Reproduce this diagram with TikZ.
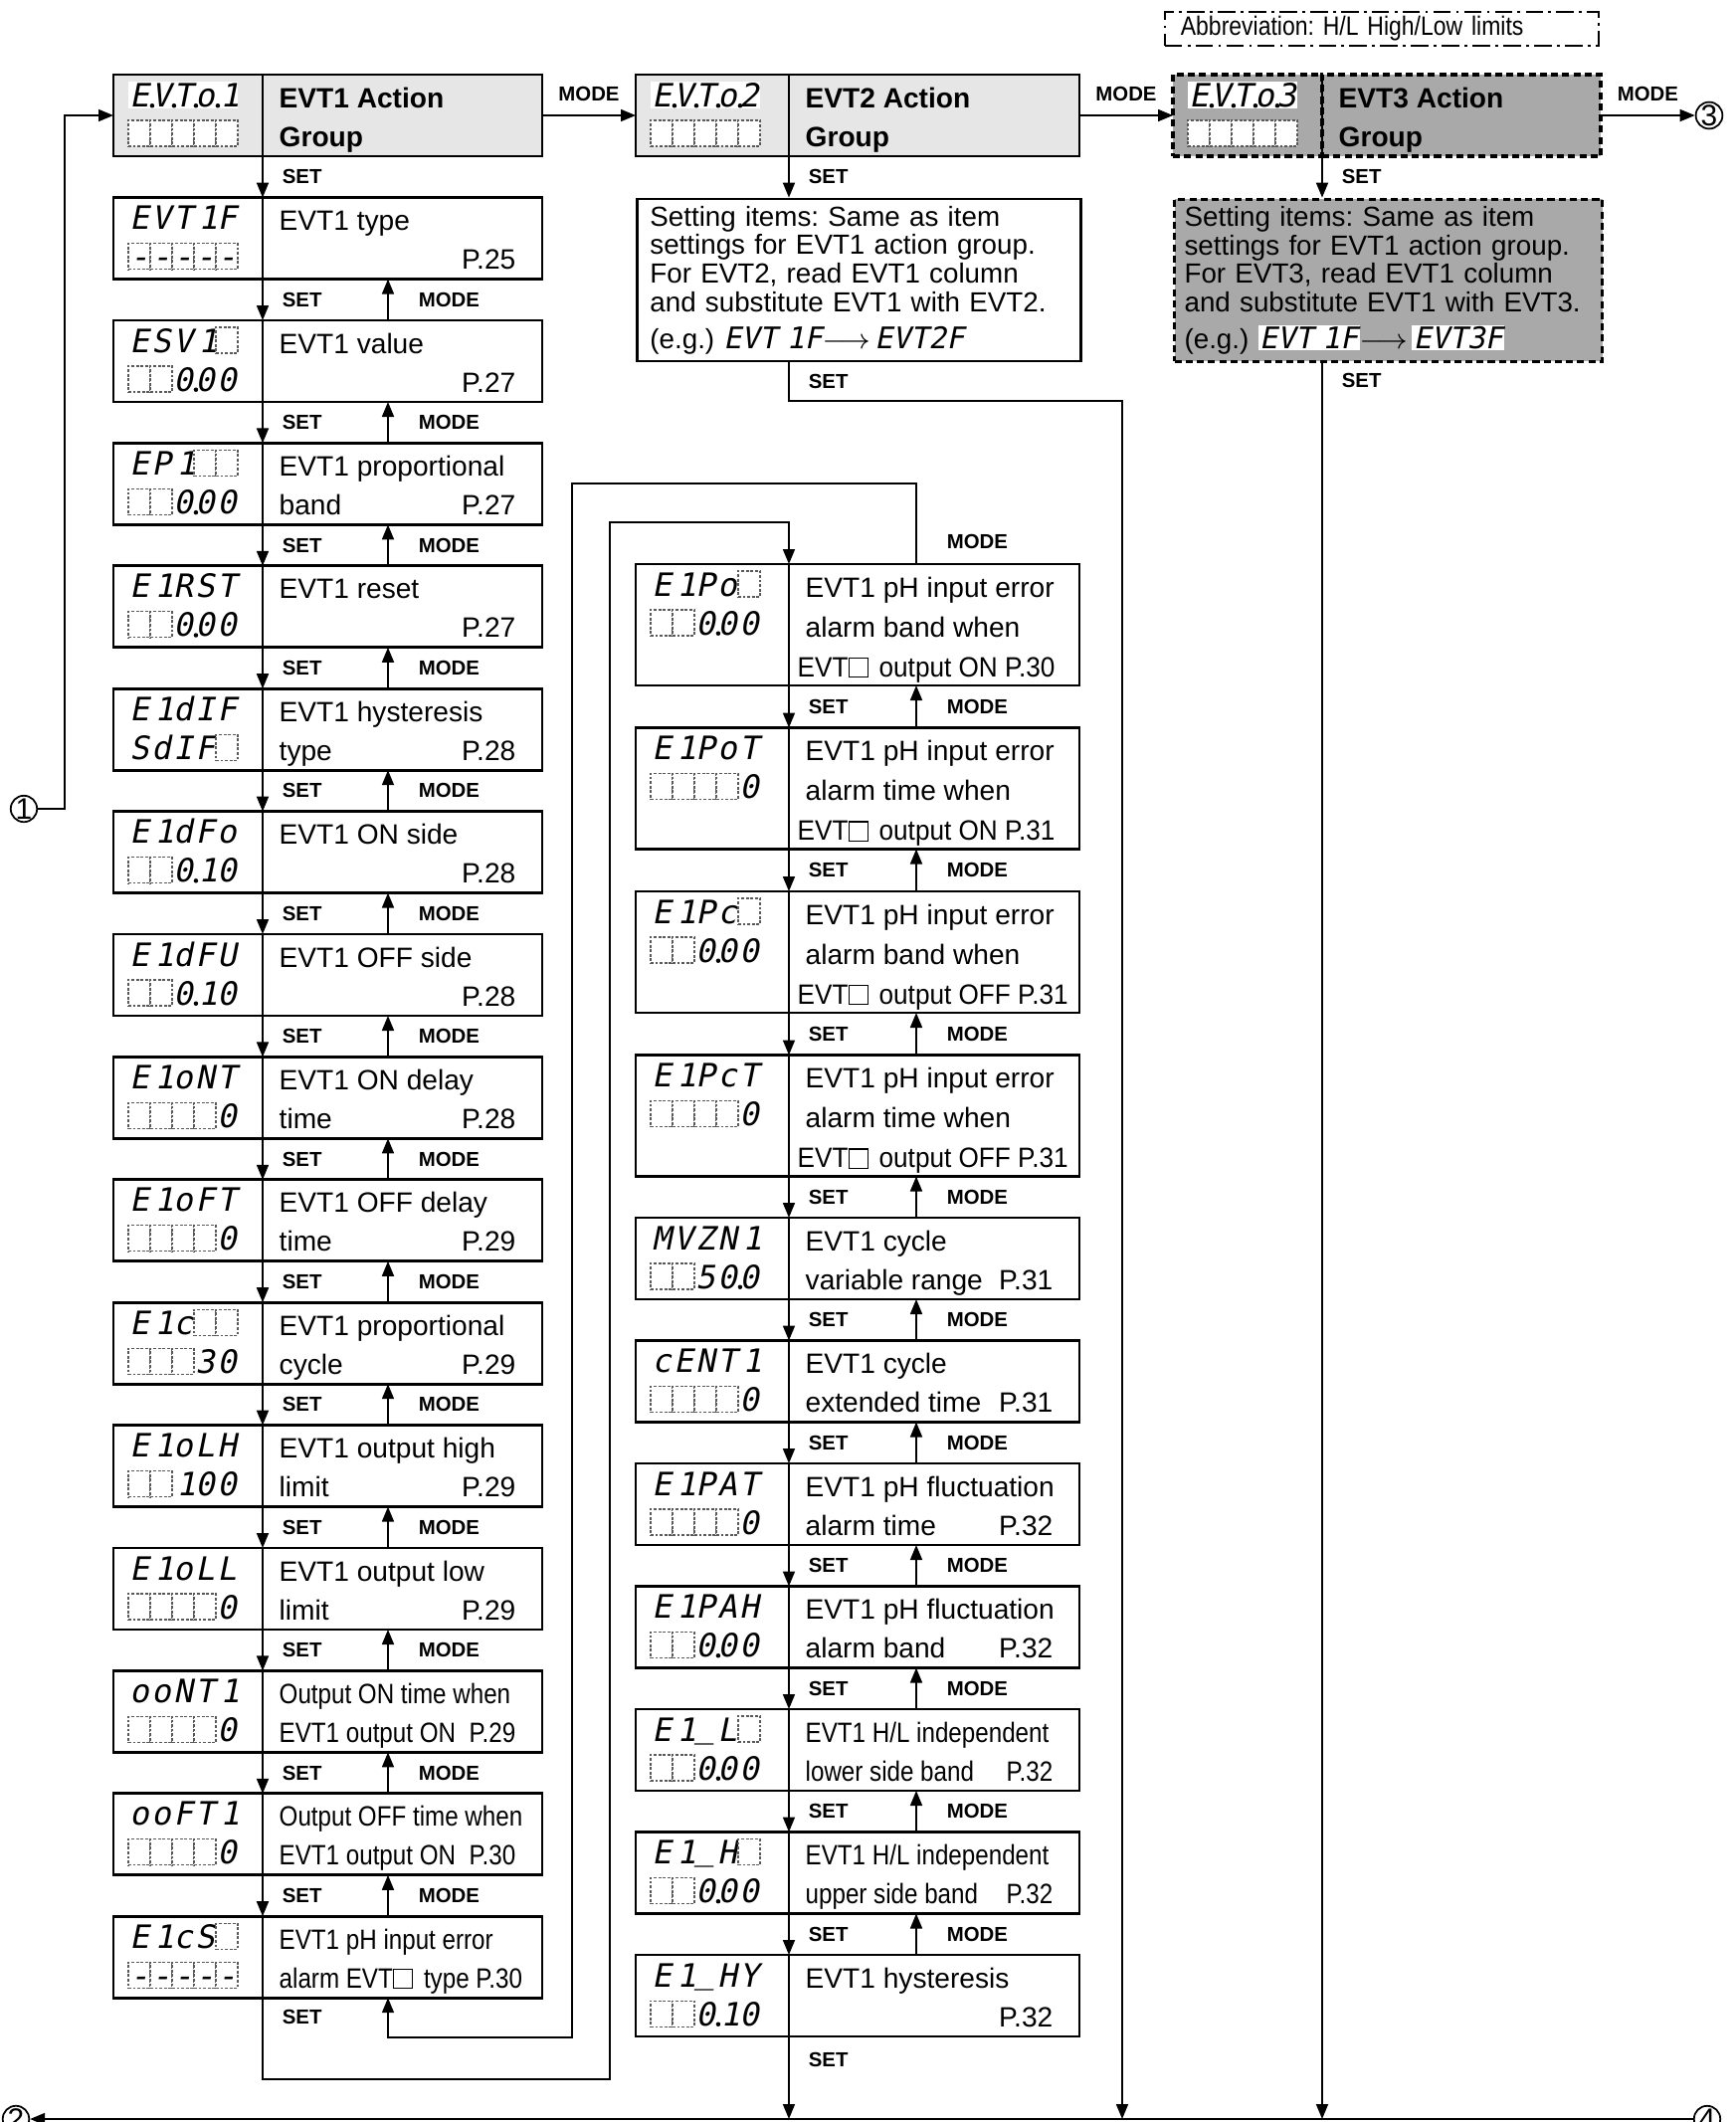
\documentclass[tikz,border=0pt]{standalone}
\usepackage{fontspec}
\setmainfont{Liberation Sans}
\newfontfamily\lcdfont[FakeSlant=0.2]{DejaVu Sans Mono}
\newfontfamily\condfont[FakeStretch=0.86]{Liberation Sans}
\newfontfamily\semicond[FakeStretch=0.93]{Liberation Sans}
\usetikzlibrary{positioning,arrows.meta}
\definecolor{evtClaro}{HTML}{E6E6E6}
\definecolor{evtGris}{HTML}{A9A9A9}
\frenchspacing

\newcommand{\evtsq}{{\setlength\fboxsep{0pt}\setlength\fboxrule{0.3pt}\fbox{\rule{0pt}{1.8mm}\hspace{1.8mm}}}\hspace{1.1mm}}
\newcommand{\egarrow}{$\longrightarrow$}

% one row of the 7 segment display: node, y offset, cells
\newcommand{\lcdrow}[3]{%
  \foreach \lsty/\lchr [count=\i from 0] in {#3}
    \node[\lsty] at ([xshift=2.6mm+\i*2.2mm, yshift=-#2]#1.north west) {\lchr};}

% setting item with two text lines
\newcommand{\evtitem}[7]{%
  \node[lcdpart] (#1l) at #2 {};
  \node[txtpart, right=0pt of #1l] (#1) {};
  \lcdrow{#1l}{2mm}{#3}
  \lcdrow{#1l}{5.9mm}{#4}
  \node[desc] at ([xshift=1.6mm, yshift=-3.3mm]#1.north west) {#5};
  \node[desc] at ([xshift=1.6mm, yshift=-7.2mm]#1.north west) {#6};
  \node[page] at ([xshift=-2.6mm, yshift=-7.2mm]#1.north east) {#7};}

% setting item with three text lines
\newcommand{\evtitemiii}[7]{%
  \node[lcdpart] (#1l) at #2 {};
  \node[txtpart, right=0pt of #1l] (#1) {};
  \lcdrow{#1l}{2mm}{#3}
  \lcdrow{#1l}{5.9mm}{#4}
  \node[desc] at ([xshift=1.6mm, yshift=-3.3mm]#1.north west) {#5};
  \node[desc] at ([xshift=1.6mm, yshift=-7.3mm]#1.north west) {#6};
  \node[desc] at ([xshift=0.8mm, yshift=-11.3mm]#1.north west) {\semicond #7};}

% action group box
\newcommand{\evtgroup}[5]{%
  \node[lcdpart, #3] (#1l) at #2 {};
  \node[txtpart, #3, right=0pt of #1l] (#1) {};
  \draw[boxline] (#1.north west) -- (#1.south west);
  \fill[white] ([xshift=1.5mm, yshift=-0.7mm]#1l.north west) rectangle ([xshift=12.5mm, yshift=-3.4mm]#1l.north west);
  \lcdrow{#1l}{2.05mm}{#4}
  \lcdrow{#1l}{5.9mm}{bk/,bk/,bk/,bk/,bk/}
  \node[title] at ([xshift=1.6mm, yshift=-3.3mm]#1.north west) {#5};
  \node[title] at ([xshift=1.6mm, yshift=-7.2mm]#1.north west) {Group};}

\begin{document}
\begin{tikzpicture}[x=0.1mm, y=-0.1mm,
    font=\fontsize{8}{9.6}\selectfont,
    boxline/.style={line width=0.8pt},
    lcdpart/.style={draw, line width=0.8pt, minimum width=15mm, minimum height=8.2mm,
                    inner sep=0, outer sep=0, anchor=north west},
    txtpart/.style={draw, line width=0.8pt, minimum width=28.1mm, minimum height=8.2mm,
                    inner sep=0, outer sep=0},
    grp/.style={fill=evtClaro},
    grpd/.style={fill=evtGris, line width=0.9pt, dash pattern=on 2pt off 1.2pt},
    desc/.style={anchor=base west, inner sep=0},
    page/.style={anchor=base east, inner sep=0},
    title/.style={anchor=base west, inner sep=0, font=\fontsize{8}{9.6}\selectfont\bfseries},
    ch/.style={inner sep=0, text height=2.4mm, text depth=0pt,
               font=\lcdfont\fontsize{9.2}{10}\selectfont},
    cr/.style={ch, xshift=0.3mm},
    cp/.style={ch, label={[circle, fill, inner sep=0, minimum size=0.45mm, anchor=center,
                           xshift=0.25mm, yshift=0.2mm]south east:{}}},
    bk/.style={draw=black!65, line width=0.3pt, dash pattern=on 0.8pt off 0.5pt, fill=white,
               minimum width=2.2mm, minimum height=2.6mm, inner sep=0},
    ds/.style={bk, text height=2.4mm, text depth=0pt, font=\lcdfont\fontsize{9.2}{10}\selectfont},
    arr/.style={-{Triangle[length=1.5mm, width=1.2mm]}, line width=0.5pt},
    lset/.style={right=1.9mm, inner sep=0, font=\fontsize{5.8}{6}\selectfont\bfseries},
    lmode/.style={right=3mm, inner sep=0, font=\fontsize{5.8}{6}\selectfont\bfseries},
    lmodet/.style={above=1.3mm, inner sep=0, font=\fontsize{5.8}{6}\selectfont\bfseries},
    circ/.style={circle, draw, line width=0.5pt, minimum size=2.6mm, inner sep=0,
                 font=\fontsize{8.5}{9}\selectfont},
    setbox/.style={draw, line width=0.8pt, anchor=north west, text width=42mm,
                   inner xsep=1.3mm, inner ysep=0, minimum height=16.3mm, align=left,
                   font=\fontsize{7.9}{8.2}\selectfont},
    abbr/.style={draw, line width=0.5pt, dash pattern=on 5pt off 1.5pt on 0.8pt off 1.5pt,
                 anchor=north west, minimum height=3.4mm, text width=40.4mm, inner xsep=1.6mm,
                 inner ysep=0, align=left, font=\condfont\fontsize{7.6}{8}\selectfont}]

  \fill[white] (0,0) rectangle (1745,2133);
  \useasboundingbox (0,0) rectangle (1745,2133);

  \node[abbr] (ab) at (1170,11) {Abbreviation: H/L High/Low limits};

  % group boxes
  \evtgroup{g1}{(114,75)}{grp}{cp/E,cp/V,cp/T,cp/o,cr/1}{EVT1 Action}
  \begin{scope}[lcdpart/.append style={minimum width=15.4mm},
                txtpart/.append style={minimum width=29.2mm}]
    \evtgroup{g2}{(639,75)}{grp}{cp/E,cp/V,cp/T,cp/o,ch/2}{EVT2 Action}
  \end{scope}
  \begin{scope}[txtpart/.append style={minimum width=28mm}]
    \evtgroup{g3}{(1179,75)}{grpd}{cp/E,cp/V,cp/T,cp/o,ch/3}{EVT3 Action}
  \end{scope}

  \node[setbox] (s2) at (639,198.6) {Setting items: Same as item\\
    settings for EVT1 action group.\\ For EVT2, read EVT1 column\\
    and substitute EVT1 with EVT2.\\[2.3pt]
    (e.g.) {\lcdfont\fontsize{8.5}{9}\selectfont EVT 1F}\egarrow\,{\lcdfont\fontsize{8.5}{9}\selectfont EVT2F}};
  \node[setbox, fill=evtGris, line width=0.9pt, dash pattern=on 2pt off 1.2pt, text width=41mm,
        inner xsep=1mm] (s3) at (1179,198.6) {Setting items: Same as item\\
    settings for EVT1 action group.\\ For EVT3, read EVT1 column\\
    and substitute EVT1 with EVT3.\\[2.3pt]
    (e.g.) {\fboxsep=0.4pt\colorbox{white}{\lcdfont\fontsize{8.5}{9}\selectfont EVT 1F}}\egarrow\,{\fboxsep=0.4pt\colorbox{white}{\lcdfont\fontsize{8.5}{9}\selectfont EVT3F}}};

  % EVT1 column
  \evtitem{a0}{(114,198.6)}{ch/E,ch/V,ch/T,cr/1,ch/F}{ds/-,ds/-,ds/-,ds/-,ds/-}{EVT1 type}{}{P.25}
  \evtitem{a1}{(114,322)}{ch/E,ch/S,ch/V,cr/1,bk/}{bk/,bk/,cp/0,ch/0,ch/0}{EVT1 value}{}{P.27}
  \evtitem{a2}{(114,445.4)}{ch/E,ch/P,cr/1,bk/,bk/}{bk/,bk/,cp/0,ch/0,ch/0}{EVT1 proportional}{band}{P.27}
  \evtitem{a3}{(114,568.8)}{ch/E,cr/1,ch/R,ch/S,ch/T}{bk/,bk/,cp/0,ch/0,ch/0}{EVT1 reset}{}{P.27}
  \evtitem{a4}{(114,692.2)}{ch/E,cr/1,ch/d,ch/I,ch/F}{ch/S,ch/d,ch/I,ch/F,bk/}{EVT1 hysteresis}{type}{P.28}
  \evtitem{a5}{(114,815.6)}{ch/E,cr/1,ch/d,ch/F,ch/o}{bk/,bk/,cp/0,cr/1,ch/0}{EVT1 ON side}{}{P.28}
  \evtitem{a6}{(114,939)}{ch/E,cr/1,ch/d,ch/F,ch/U}{bk/,bk/,cp/0,cr/1,ch/0}{EVT1 OFF side}{}{P.28}
  \evtitem{a7}{(114,1062.4)}{ch/E,cr/1,ch/o,ch/N,ch/T}{bk/,bk/,bk/,bk/,ch/0}{EVT1 ON delay}{time}{P.28}
  \evtitem{a8}{(114,1185.8)}{ch/E,cr/1,ch/o,ch/F,ch/T}{bk/,bk/,bk/,bk/,ch/0}{EVT1 OFF delay}{time}{P.29}
  \evtitem{a9}{(114,1309.2)}{ch/E,cr/1,ch/c,bk/,bk/}{bk/,bk/,bk/,ch/3,ch/0}{EVT1 proportional}{cycle}{P.29}
  \evtitem{a10}{(114,1432.6)}{ch/E,cr/1,ch/o,ch/L,ch/H}{bk/,bk/,cr/1,ch/0,ch/0}{EVT1 output high}{limit}{P.29}
  \evtitem{a11}{(114,1556)}{ch/E,cr/1,ch/o,ch/L,ch/L}{bk/,bk/,bk/,bk/,ch/0}{EVT1 output low}{limit}{P.29}
  \evtitem{a12}{(114,1679.4)}{ch/o,ch/o,ch/N,ch/T,cr/1}{bk/,bk/,bk/,bk/,ch/0}{\condfont Output ON time when}{\condfont EVT1 output ON}{\condfont P.29}
  \evtitem{a13}{(114,1802.8)}{ch/o,ch/o,ch/F,ch/T,cr/1}{bk/,bk/,bk/,bk/,ch/0}{\condfont Output OFF time when}{\condfont EVT1 output ON}{\condfont P.30}
  \evtitem{a14}{(114,1926.2)}{ch/E,cr/1,ch/c,ch/S,bk/}{ds/-,ds/-,ds/-,ds/-,ds/-}{\condfont EVT1 pH input error}{\condfont alarm EVT\evtsq type P.30}{}

  % pH alarm column
  \begin{scope}[lcdpart/.append style={minimum width=15.4mm, minimum height=12.2mm},
                txtpart/.append style={minimum width=29.2mm, minimum height=12.2mm}]
    \evtitemiii{b1}{(639,567)}{ch/E,cr/1,ch/P,ch/o,bk/}{bk/,bk/,cp/0,ch/0,ch/0}{EVT1 pH input error}{alarm band when}{EVT\evtsq output ON P.30}
    \evtitemiii{b2}{(639,731.5)}{ch/E,cr/1,ch/P,ch/o,ch/T}{bk/,bk/,bk/,bk/,ch/0}{EVT1 pH input error}{alarm time when}{EVT\evtsq output ON P.31}
    \evtitemiii{b3}{(639,896)}{ch/E,cr/1,ch/P,ch/c,bk/}{bk/,bk/,cp/0,ch/0,ch/0}{EVT1 pH input error}{alarm band when}{EVT\evtsq output OFF P.31}
    \evtitemiii{b4}{(639,1060.5)}{ch/E,cr/1,ch/P,ch/c,ch/T}{bk/,bk/,bk/,bk/,ch/0}{EVT1 pH input error}{alarm time when}{EVT\evtsq output OFF P.31}
  \end{scope}
  \begin{scope}[lcdpart/.append style={minimum width=15.4mm},
                txtpart/.append style={minimum width=29.2mm}]
    \evtitem{b5}{(639,1224)}{ch/M,ch/V,ch/Z,ch/N,cr/1}{bk/,bk/,ch/5,cp/0,ch/0}{EVT1 cycle}{variable range}{P.31}
    \evtitem{b6}{(639,1347.5)}{ch/c,ch/E,ch/N,ch/T,cr/1}{bk/,bk/,bk/,bk/,ch/0}{EVT1 cycle}{extended time}{P.31}
    \evtitem{b7}{(639,1471)}{ch/E,cr/1,ch/P,ch/A,ch/T}{bk/,bk/,bk/,bk/,ch/0}{EVT1 pH fluctuation}{alarm time}{P.32}
    \evtitem{b8}{(639,1594.5)}{ch/E,cr/1,ch/P,ch/A,ch/H}{bk/,bk/,cp/0,ch/0,ch/0}{EVT1 pH fluctuation}{alarm band}{P.32}
    \evtitem{b9}{(639,1718)}{ch/E,cr/1,ch/\raisebox{0.4mm}{\_},ch/L,bk/}{bk/,bk/,cp/0,ch/0,ch/0}{\condfont EVT1 H/L independent}{\condfont lower side band}{\condfont P.32}
    \evtitem{b10}{(639,1841.5)}{ch/E,cr/1,ch/\raisebox{0.4mm}{\_},ch/H,bk/}{bk/,bk/,cp/0,ch/0,ch/0}{\condfont EVT1 H/L independent}{\condfont upper side band}{\condfont P.32}
    \evtitem{b11}{(639,1965)}{ch/E,cr/1,ch/\raisebox{0.4mm}{\_},ch/H,ch/Y}{bk/,bk/,cp/0,cr/1,ch/0}{EVT1 hysteresis}{}{P.32}
  \end{scope}

  % off-page connectors
  \node[circ] (c1) at (24,813) {1};
  \node[circ] (c2) at (16,2130) {2};
  \node[circ] (c3) at (1718,116) {3};
  \node[circ] (c4) at (1716,2130) {4};

  % corners of the long connectors
  \coordinate (t2) at (1128,403);
  \coordinate (lpA) at (613,2090);
  \coordinate (lpB) at (613,525);
  \coordinate (mpA) at (575,486);
  \coordinate (mpB) at (575,2048);

  % MODE between groups
  \draw[arr] (g1.east) -- node[lmodet]{MODE} (g2l.west);
  \draw[arr] (g2.east) -- node[lmodet]{MODE} (g3l.west);
  \draw[arr] (g3.east) -- node[lmodet]{MODE} (c3.west);
  \draw[arr] (c1.east) -- ++(2.7mm,0) |- (g1l.west);

  % SET into the groups
  \draw[arr] (g1.south west) -- node[lset]{SET} (a0.north west);
  \draw[arr] (g2.south west) -- node[lset]{SET} (g2.south west |- s2.north);
  \draw[arr] (g3.south west) -- node[lset]{SET} (g3.south west |- s3.north);

  \foreach \p/\q in {a0/a1,a1/a2,a2/a3,a3/a4,a4/a5,a5/a6,a6/a7,a7/a8,a8/a9,a9/a10,
                     a10/a11,a11/a12,a12/a13,a13/a14} {
    \draw[arr] (\p.south west) -- node[lset]{SET} (\q.north west);
    \draw[arr] ([xshift=12.6mm]\q.north west) -- node[lmode]{MODE} ([xshift=12.6mm]\p.south west);
  }
  \foreach \p/\q in {b1/b2,b2/b3,b3/b4,b4/b5,b5/b6,b6/b7,b7/b8,b8/b9,b9/b10,b10/b11} {
    \draw[arr] (\p.south west) -- node[lset]{SET} (\q.north west);
    \draw[arr] ([xshift=12.8mm]\q.north west) -- node[lmode]{MODE} ([xshift=12.8mm]\p.south west);
  }

  % loops between the two columns
  \draw[arr] (a14.south west) |- node[pos=0.12, lset]{SET} (lpA) -- (lpB) -| (b1.north west);
  \draw[arr] ([xshift=12.8mm]b1.north west) |- node[pos=0.14, lmode]{MODE} (mpA) -- (mpB)
             -| ([xshift=12.6mm]a14.south west);

  % down to the bottom line
  \draw[arr] (b11.south west) -- node[pos=0.28, lset]{SET} (b11.south west |- c2);
  \draw[arr] (g2.south west |- s2.south) -- node[lset]{SET} (g2.south west |- t2) -- (t2) -- (t2 |- c2);
  \draw[arr] (g3.south west |- s3.south) -- node[pos=0.01, lset]{SET} (g3.south west |- c2);
  \draw[arr] (c4.west) -- (c2.east);
\end{tikzpicture}
\end{document}
